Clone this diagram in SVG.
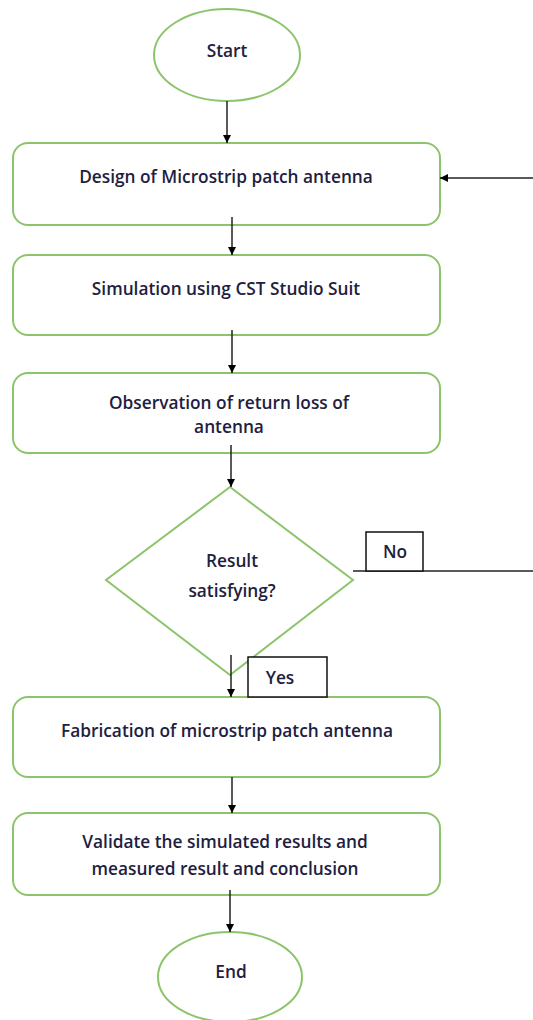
<svg xmlns="http://www.w3.org/2000/svg" width="533" height="1020" viewBox="0 0 533 1020">
<defs>
<style>
.n{fill:#fff;stroke:#8cc46c;stroke-width:2}
.t{font-family:"Open Sans","Liberation Sans",sans-serif;font-size:17.3px;font-weight:600;fill:#1e2040;text-anchor:middle}
.c{stroke:#222;stroke-width:1.5;fill:none}
.lb{fill:#fff;stroke:#111;stroke-width:1.5}
</style>
<marker id="ah" viewBox="0 0 10 10" refX="10" refY="5" markerWidth="8" markerHeight="8" markerUnits="userSpaceOnUse" orient="auto">
<path d="M0,0 L10,5 L0,10 z" fill="#000"/>
</marker>
</defs>
<rect width="533" height="1020" fill="#fff"/>
<g id="start"><ellipse class="n" cx="227" cy="55" rx="73" ry="46"/><text class="t" x="227" y="57">Start</text></g>
<g id="design"><rect class="n" x="13" y="143" width="427" height="82" rx="15"/><text class="t" x="226" y="183">Design of Microstrip patch antenna</text></g>
<g id="simulation"><rect class="n" x="13" y="255" width="427" height="80" rx="15"/><text class="t" x="226" y="295">Simulation using CST Studio Suit</text></g>
<g id="observation"><rect class="n" x="13" y="373" width="427" height="80" rx="15"/><text class="t" x="229" y="409">Observation of return loss of</text><text class="t" x="229" y="433">antenna</text></g>
<g id="decision"><polygon class="n" points="230,487 353,580 230,675 106,580"/><text class="t" x="232" y="567">Result</text><text class="t" x="232" y="597">satisfying?</text></g>
<g id="fabrication"><rect class="n" x="13" y="697" width="427" height="80" rx="15"/><text class="t" x="227" y="737">Fabrication of microstrip patch antenna</text></g>
<g id="validate"><rect class="n" x="13" y="813" width="427" height="82" rx="15"/><text class="t" x="225" y="848">Validate the simulated results and</text><text class="t" x="225" y="875">measured result and conclusion</text></g>
<g id="end"><ellipse class="n" cx="230" cy="977" rx="72" ry="45"/><text class="t" x="231" y="978">End</text></g>
<g id="connectors">
<line class="c" x1="227" y1="101" x2="227" y2="143" marker-end="url(#ah)"/>
<line class="c" x1="232" y1="217" x2="232" y2="255" marker-end="url(#ah)"/>
<line class="c" x1="232" y1="330" x2="232" y2="373" marker-end="url(#ah)"/>
<line class="c" x1="231" y1="445" x2="231" y2="487" marker-end="url(#ah)"/>
<line class="c" x1="231" y1="655" x2="231" y2="697" marker-end="url(#ah)"/>
<line class="c" x1="232" y1="777" x2="232" y2="813" marker-end="url(#ah)"/>
<line class="c" x1="230" y1="890" x2="230" y2="932" marker-end="url(#ah)"/>
<polyline class="c" points="353,571 533,571"/>
<line class="c" x1="533" y1="178" x2="440" y2="178" marker-end="url(#ah)"/>
</g>
<g id="label-no"><rect class="lb" x="366" y="532" width="57" height="39"/><text class="t" x="395" y="558">No</text></g>
<g id="label-yes"><rect class="lb" x="248" y="657" width="79" height="40"/><text class="t" x="280" y="684">Yes</text></g>
</svg>
